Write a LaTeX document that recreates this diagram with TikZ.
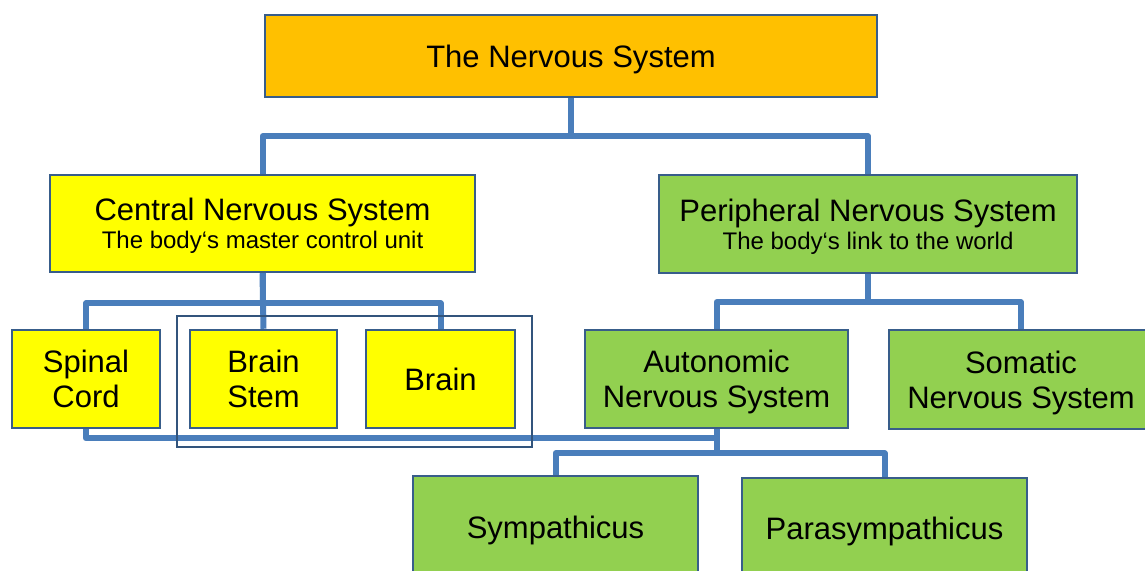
\documentclass[tikz,border=0pt]{standalone}
\usepackage{fontspec}
\setmainfont{Liberation Sans}
\usepackage{tikz}
\definecolor{topfill}{HTML}{FFC000}
\definecolor{cnsfill}{HTML}{FFFF00}
\definecolor{pnsfill}{HTML}{92D050}
\definecolor{boxline}{HTML}{385D8A}
\definecolor{linkline}{HTML}{4A7EBB}
\tikzset{
  box/.style={draw=boxline, line width=2.5pt, align=center, inner sep=0pt, text depth=0pt, font=\fontsize{31}{35}\selectfont},
  link/.style={draw=linkline, line width=6pt, line join=round},
  drop/.style={execute at begin node={\rule{0pt}{#1}}}
}
\newcommand{\subline}{\fontsize{24}{28}\selectfont}

\begin{document}
\begin{tikzpicture}[x=1pt,y=-1pt]
\useasboundingbox (0,0) rectangle (1145,570);
\clip (0,0) rectangle (1145,570);
\node[box,fill=topfill,minimum width=612pt,minimum height=82pt] (nervous) at (571,56) {The Nervous System};
\node[box,drop=25.8pt,fill=cnsfill,minimum width=425pt,minimum height=97pt] (cns) at (262.5,223.5) {Central Nervous System\\[-7pt]{\subline The body‘s master control unit}};
\node[box,drop=25.8pt,fill=pnsfill,minimum width=418pt,minimum height=98pt] (pns) at (868,224) {Peripheral Nervous System\\[-7pt]{\subline The body‘s link to the world}};
\node[box,fill=cnsfill,minimum width=148pt,minimum height=98pt] (spinal) at (86,379) {Spinal\\Cord};
\node[box,fill=cnsfill,minimum width=147pt,minimum height=98pt] (stem) at (263.5,379) {Brain\\Stem};
\node[box,fill=cnsfill,minimum width=149pt,minimum height=98pt] (brain) at (440.5,379) {Brain};
\node[box,fill=pnsfill,minimum width=263pt,minimum height=98pt] (ans) at (716.5,379) {Autonomic\\Nervous System};
\node[box,fill=pnsfill,minimum width=264pt,minimum height=99pt] (sns) at (1021,379.5) {Somatic\\Nervous System};
\node[box,fill=pnsfill,minimum width=285pt,minimum height=102pt] (sym) at (555.5,527) {Sympathicus};
\node[box,fill=pnsfill,minimum width=285pt,minimum height=100pt] (para) at (884.5,528) {Parasympathicus};
\draw[link] (nervous.south) -- ++(0,38) -| (cns.north);
\draw[link] (nervous.south) -- ++(0,38) -| (pns.north);
\draw[link] (cns.south) -- ++(0,30) -| (spinal.north);
\draw[link] (cns.south) -- (stem.north);
\draw[link] (cns.south) -- ++(0,30) -| (brain.north);
\draw[link] (pns.south) -- ++(0,28) -| (ans.north);
\draw[link] (pns.south) -- ++(0,28) -| (sns.north);
\draw[link] (spinal.south) -- ++(0,9) -| (ans.south);
\draw[link] (ans.south) -- ++(0,24) -| (sym.north);
\draw[link] (ans.south) -- ++(0,24) -| (para.north);
\draw[boxline!90!black,line width=2pt] (177,316) rectangle (532,447);
\end{tikzpicture}
\end{document}
